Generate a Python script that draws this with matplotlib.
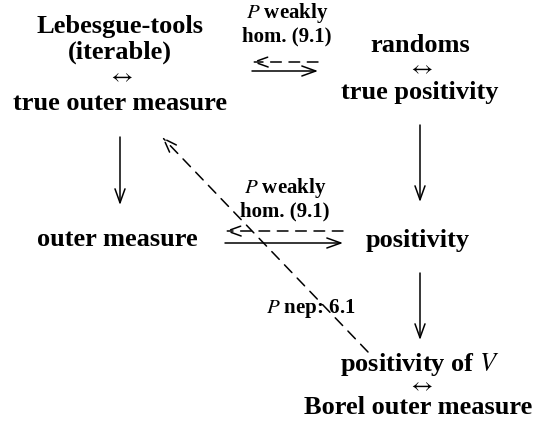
import matplotlib
matplotlib.use("Agg")
import matplotlib.pyplot as plt

plt.rcParams['font.family'] = ['Liberation Serif', 'DejaVu Serif']
plt.rcParams['mathtext.fontset'] = 'stix'

EQ = r'$\leftrightarrow$'

# Узлы диаграммы (строки текста)
node_texts = ['Lebesgue-tools', '(iterable)', EQ, 'true outer measure',
              'randoms', EQ, 'true positivity',
              'outer measure', 'positivity',
              'positivity of $V$', EQ, 'Borel outer measure']
node_x = [120, 120, 120, 120, 420, 420, 420, 117, 418, 420, 420, 418]
node_y = [26, 52, 78, 103, 45, 70, 93, 240, 240, 365, 387, 408]

# Подписи стрелок
label_texts = ['$P$ weakly', 'hom. (9.1)', '$P$ weakly', 'hom. (9.1)', '$P$ nep: 6.1']
label_x = [287, 287, 285, 285, 311]
label_y = [13, 36, 188, 211, 308]

# Стрелки: начало, конец, пунктир или нет
arrow_start = [(252, 71), (318, 62), (225, 243), (343, 231),
               (120, 137), (420, 125), (420, 273), (368, 352)]
arrow_end = [(318, 71), (252, 62), (343, 243), (225, 231),
             (120, 205), (420, 202), (420, 340), (162, 137)]
arrow_dashed = [False, True, False, True, False, False, False, True]

fig = plt.figure(figsize=(5.35, 4.26), dpi=100)
ax = fig.add_axes([0, 0, 1, 1])
ax.set_xlim(0, 535)
ax.set_ylim(426, 0)
ax.axis('off')

for t, x, y in zip(node_texts, node_x, node_y):
    if t == EQ:
        # стрелка-эквивалентность, не жирная
        ax.text(x, y, t, ha='center', va='center', fontsize=16)
    else:
        ax.text(x, y, t, ha='center', va='center', fontsize=19, fontweight='bold')

for t, x, y in zip(label_texts, label_x, label_y):
    ax.text(x, y, t, ha='center', va='center', fontsize=15, fontweight='bold')

for s, e, d in zip(arrow_start, arrow_end, arrow_dashed):
    ax.annotate('', xy=e, xytext=s,
                arrowprops=dict(arrowstyle='->, head_length=0.5, head_width=0.18',
                                mutation_scale=20, lw=1.1, color='black',
                                linestyle=(0, (7, 5)) if d else '-',
                                shrinkA=0, shrinkB=0))

fig.savefig('out.png', dpi=100)
